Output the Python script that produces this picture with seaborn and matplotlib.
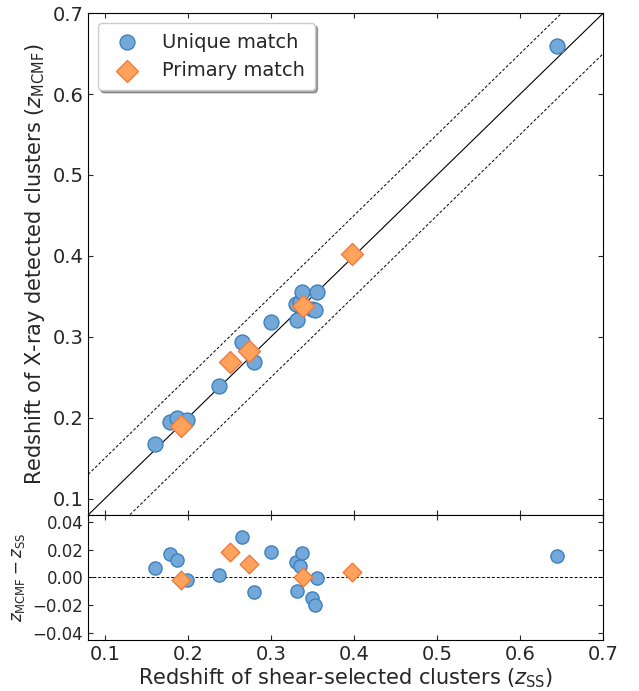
import numpy as np
import pandas as pd
import matplotlib
matplotlib.use("Agg")
import matplotlib.pyplot as plt
import seaborn as sns

# shear-selected redshifts and MCMF - SS offsets
unique_zss = [0.160, 0.178, 0.187, 0.199, 0.237, 0.265, 0.280, 0.300,
              0.330, 0.335, 0.337, 0.331, 0.349, 0.353, 0.356, 0.644]
unique_dz = [0.0071, 0.0171, 0.0126, -0.0021, 0.0017, 0.0290, -0.0107, 0.0181,
             0.0112, 0.0081, 0.0179, -0.0098, -0.0145, -0.0200, -0.0007, 0.0152]
primary_zss = [0.192, 0.251, 0.273, 0.338, 0.398]
primary_dz = [-0.0021, 0.0181, 0.0093, 0.0002, 0.0038]

df_u = pd.DataFrame({"zss": unique_zss, "dz": unique_dz})
df_u["zmcmf"] = df_u["zss"] + df_u["dz"]
df_p = pd.DataFrame({"zss": primary_zss, "dz": primary_dz})
df_p["zmcmf"] = df_p["zss"] + df_p["dz"]

sns.set_style("ticks")
plt.rcParams["font.family"] = ["DejaVu Sans"]
plt.rcParams["mathtext.fontset"] = "dejavusans"
plt.rcParams["xtick.direction"] = "in"
plt.rcParams["ytick.direction"] = "in"
plt.rcParams["xtick.top"] = True
plt.rcParams["ytick.right"] = True

blue_face, blue_edge = "#72a9d8", "#3f7fc0"
orange_face, orange_edge = "#ffa35c", "#f07a40"

fig = plt.figure(figsize=(6.39, 6.91), dpi=100)
gs = fig.add_gridspec(2, 1, height_ratios=[502, 125], hspace=0,
                      left=0.138, right=0.944, top=0.981, bottom=0.074)
ax = fig.add_subplot(gs[0])
axr = fig.add_subplot(gs[1], sharex=ax)

lims = np.array([0.08, 0.7])
ax.plot(lims, lims, color="k", lw=0.8, zorder=1)
ax.plot(lims, lims + 0.05, color="k", lw=0.7, ls="--", dashes=(3, 2), zorder=1)
ax.plot(lims, lims - 0.05, color="k", lw=0.7, ls="--", dashes=(3, 2), zorder=1)

sns.scatterplot(data=df_u, x="zss", y="zmcmf", ax=ax, marker="o", s=115,
                color=blue_face, edgecolor=blue_edge, linewidth=1.0,
                label="Unique match", zorder=3)
sns.scatterplot(data=df_p, x="zss", y="zmcmf", ax=ax, marker="D", s=125,
                color=orange_face, edgecolor=orange_edge, linewidth=1.0,
                label="Primary match", zorder=4)

ax.set_xlim(0.08, 0.7)
ax.set_ylim(0.08, 0.7)
ax.set_yticks([0.1, 0.2, 0.3, 0.4, 0.5, 0.6, 0.7])
ax.set_xticks([0.1, 0.2, 0.3, 0.4, 0.5, 0.6, 0.7])
ax.tick_params(labelbottom=False, labelsize=14)
ax.set_xlabel("")
ax.set_ylabel(r"Redshift of X-ray detected clusters ($z_{\rm MCMF}$)", fontsize=15)
ax.legend(loc="upper left", fontsize=14, fancybox=True, shadow=True,
          framealpha=1, borderpad=0.5)

axr.axhline(0, color="k", lw=0.7, ls="--", dashes=(3, 2), zorder=1)
sns.scatterplot(data=df_u, x="zss", y="dz", ax=axr, marker="o", s=90,
                color=blue_face, edgecolor=blue_edge, linewidth=1.0, zorder=3)
sns.scatterplot(data=df_p, x="zss", y="dz", ax=axr, marker="D", s=90,
                color=orange_face, edgecolor=orange_edge, linewidth=1.0, zorder=4)
axr.set_ylim(-0.045, 0.045)
axr.set_yticks([-0.04, -0.02, 0.0, 0.02, 0.04])
axr.tick_params(axis="y", labelsize=12)
axr.tick_params(axis="x", labelsize=14)
axr.set_xlabel(r"Redshift of shear-selected clusters ($z_{\rm SS}$)", fontsize=15,
               labelpad=2)
axr.set_ylabel(r"$z_{\rm MCMF} - z_{\rm SS}$", fontsize=12)

for a in (ax, axr):
    for sp in a.spines.values():
        sp.set_linewidth(0.8)
        sp.set_color("k")

fig.savefig("out.png", dpi=100)
